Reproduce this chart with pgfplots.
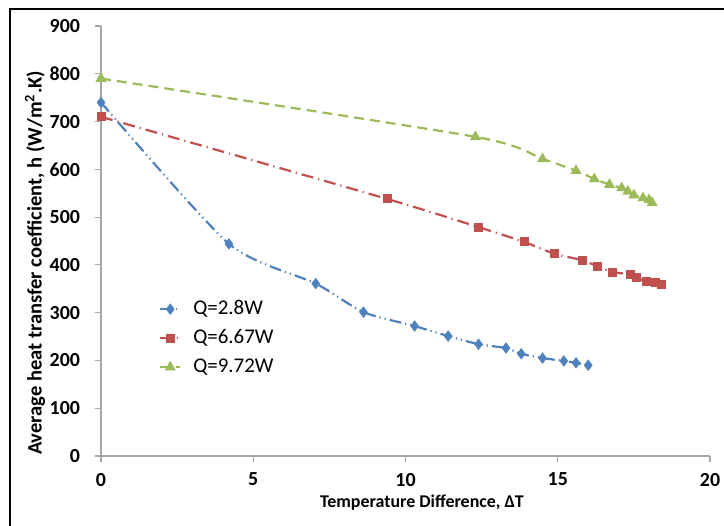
\documentclass[border=0pt]{standalone}
\usepackage{fontspec}
\setmainfont{Carlito}
\usepackage{pgfplots}
\pgfplotsset{compat=1.18}

\definecolor{xlblue}{HTML}{4F81BD}
\definecolor{xlred}{HTML}{C0504D}
\definecolor{xlgreen}{HTML}{9BBB59}
\definecolor{axgray}{HTML}{A6A6A6}

\begin{document}
\begin{tikzpicture}
% page = reference image, 1px = 0.5bp, plot area corner at (0,0)
\useasboundingbox (-50.5bp,-35bp) rectangle (311.5bp,228bp);
\draw[line width=1.3bp] (-45.5bp,-40bp) -- (-45.5bp,223.5bp) -- (320bp,223.5bp);
\begin{axis}[
  at={(0,0)}, anchor=south west,
  scale only axis, width=304.5bp, height=215bp,
  xmin=0, xmax=20, ymin=0, ymax=900,
  xtick={0,5,...,20}, ytick={0,100,...,900},
  axis x line*=bottom, axis y line*=left,
  axis line style={axgray, line width=0.6bp, -},
  tick style={axgray, line width=0.6bp},
  tick align=outside, major tick length=3bp,
  /pgf/number format/assume math mode=true,
  ticklabel style={font=\bfseries\fontsize{10}{12}\selectfont},
  xticklabel style={yshift=-2bp},
  yticklabel style={xshift=-4bp},
  xlabel={Temperature Difference, ΔT},
  ylabel={Average heat transfer coefficient, h (W/m\textsuperscript{2}.K)},
  xlabel style={at={(rel axis cs:0.527,-0.108)}, anchor=center,
    font=\bfseries\fontsize{9}{11}\selectfont},
  ylabel style={at={(rel axis cs:-0.1084,0.449)}, anchor=center,
    font=\bfseries\fontsize{10.3}{12}\selectfont},
  legend style={at={(rel axis cs:0.085,0.381)}, anchor=north west, draw=none, fill=none,
    font=\fontsize{10.5}{12}\selectfont, row sep=2bp,
    /tikz/every odd column/.append style={column sep=4bp}},
  legend cell align=left,
  legend image code/.code={
    \draw[mark repeat=2,mark phase=2] plot coordinates {(0bp,0bp) (5bp,0bp) (10bp,0bp)};},
  clip=false,
]
\addplot[xlblue, line width=1.1bp, smooth, tension=0.4,
  dash pattern=on 6bp off 2bp on 0.6bp off 2bp on 0.6bp off 2bp,
  mark=diamond*, mark size=2bp, mark options={solid, fill=xlblue}]
  coordinates {(0,740) (4.2,444) (7.05,361) (8.62,301) (10.3,272) (11.4,251) (12.4,234)
    (13.3,226) (13.8,214) (14.5,205) (15.2,199) (15.6,195) (16.0,190)};
\addlegendentry{Q=2.8W}
\addplot[xlred, line width=1.1bp, smooth, tension=0.4,
  dash pattern=on 6bp off 2.5bp on 0.6bp off 2.5bp,
  mark=square*, mark size=1.7bp, mark options={solid, fill=xlred}]
  coordinates {(0,710) (9.4,538) (12.4,479) (13.9,448) (14.9,423) (15.8,410) (16.3,397)
    (16.8,385) (17.4,380) (17.6,373) (17.9,366) (18.2,363) (18.4,359)};
\addlegendentry{Q=6.67W}
\addplot[xlgreen, line width=1.1bp, smooth, tension=0.4,
  dash pattern=on 5bp off 3bp,
  mark=triangle*, mark size=2.1bp, mark options={solid, fill=xlgreen}]
  coordinates {(0,790) (12.3,668) (14.5,622) (15.6,597) (16.2,580) (16.7,568) (17.1,561)
    (17.3,554) (17.5,546) (17.8,540) (18.0,536) (18.1,530)};
\addlegendentry{Q=9.72W}
\end{axis}
\end{tikzpicture}
\end{document}
